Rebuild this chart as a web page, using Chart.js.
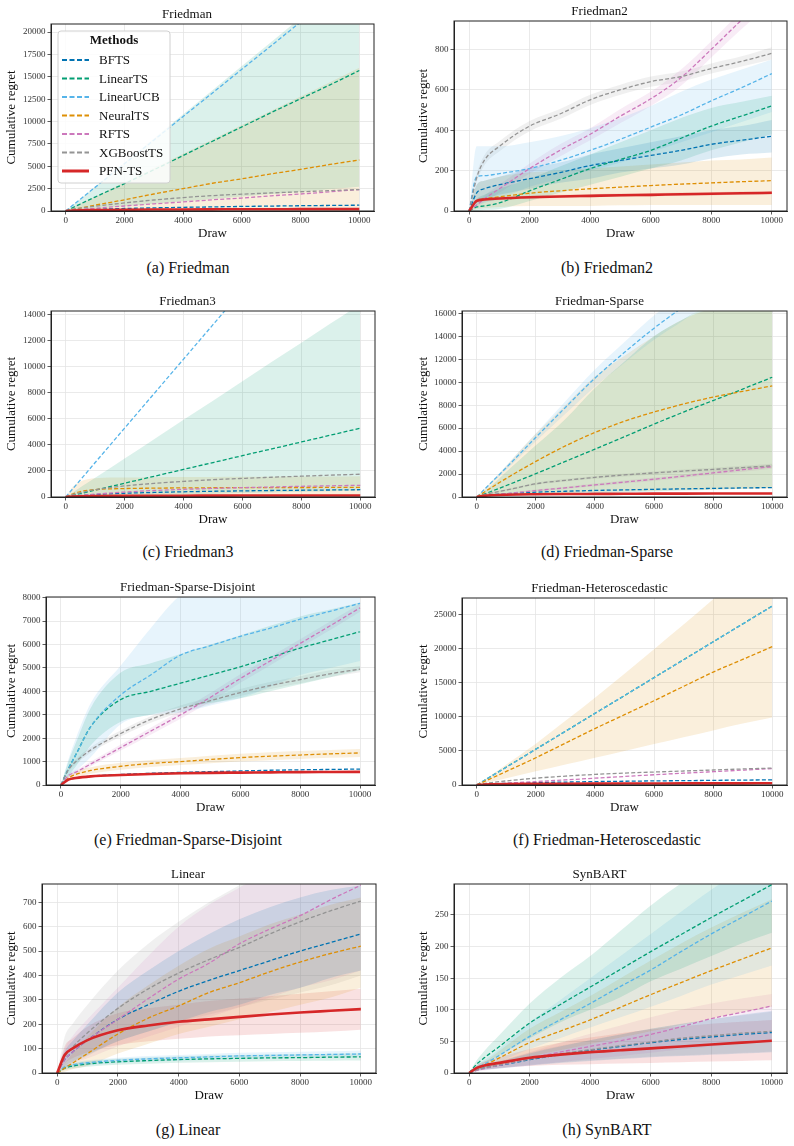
<!DOCTYPE html>
<html>
<head>
<meta charset="utf-8">
<script src="https://cdn.jsdelivr.net/npm/chart.js@4.4.0/dist/chart.umd.min.js"></script>
<style>
  body { margin: 0; background: #fff; width: 794px; height: 1146px; position: relative; overflow: hidden; font-family: "Liberation Serif", serif; color: #111; }
  canvas { position: absolute; }
  .cap { position: absolute; font-size: 16px; transform: translate(-50%, -50%); white-space: nowrap; }
</style>
</head>
<body>
<script>
// shared x positions (draw index) and tick labels
const DRAW = [0, 250, 500, 1000, 2000, 3000, 4000, 5000, 6000, 7000, 8000, 9000, 10000];
const X_TICKS = [0, 2000, 4000, 6000, 8000, 10000];
const METHODS = ["BFTS", "LinearTS", "LinearUCB", "NeuralTS", "RFTS", "XGBoostTS", "PFN-TS"];
const ZEROS = [0, 0, 0, 0, 0, 0, 0, 0, 0, 0, 0, 0, 0];

// (a) Friedman
const a_yTicks = [0, 2500, 5000, 7500, 10000, 12500, 15000, 17500, 20000];
const a_BFTS = [0, 80, 130, 190, 280, 350, 410, 460, 510, 550, 590, 620, 650];
const a_LinearTS = [0, 390, 780, 1560, 3050, 4600, 6200, 7800, 9400, 11000, 12550, 14100, 15700];
const a_LinearTS_lo = [0, 70, 140, 270, 540, 810, 1080, 1350, 1620, 1890, 2160, 2430, 2700];
const a_LinearTS_hi = [0, 680, 1350, 2700, 5400, 8100, 10800, 13500, 16200, 18900, 21600, 24300, 27000];
const a_LinearUCB = [0, 660, 1320, 2640, 5280, 7920, 10560, 13200, 15840, 18480, 21120, 23760, 26400];
const a_NeuralTS = [0, 170, 330, 650, 1250, 1900, 2500, 3100, 3600, 4150, 4650, 5200, 5700];
const a_NeuralTS_hi = [0, 400, 800, 1600, 3200, 4800, 6400, 8000, 9600, 11200, 12800, 14400, 16000];
const a_RFTS = [0, 80, 160, 300, 560, 800, 1010, 1250, 1450, 1700, 1900, 2150, 2400];
const a_XGBoostTS = [0, 200, 330, 530, 900, 1230, 1500, 1720, 1880, 2020, 2150, 2280, 2400];
const a_PFN = [0, 60, 90, 110, 140, 160, 175, 185, 195, 200, 205, 210, 215];

// (b) Friedman2
const b_yTicks = [0, 200, 400, 600, 800];
const b_BFTS = [0, 90, 110, 130, 160, 190, 225, 250, 275, 300, 330, 350, 370];
const b_BFTS_lo = [0, 50, 60, 80, 110, 140, 160, 190, 210, 230, 260, 280, 290];
const b_BFTS_hi = [0, 130, 150, 170, 210, 240, 280, 310, 340, 370, 400, 420, 450];
const b_LinearTS = [0, 20, 25, 40, 100, 155, 210, 255, 300, 360, 420, 470, 520];
const b_LinearTS_lo = [0, 0, 5, 10, 50, 90, 130, 170, 210, 250, 300, 340, 380];
const b_LinearTS_hi = [0, 60, 80, 110, 160, 220, 280, 340, 400, 460, 510, 540, 570];
const b_LinearUCB = [0, 170, 175, 185, 210, 250, 300, 355, 415, 475, 545, 610, 680];
const b_LinearUCB_lo = [0, 30, 40, 60, 120, 160, 200, 240, 290, 340, 390, 440, 490];
const b_LinearUCB_hi = [0, 320, 320, 320, 340, 370, 410, 460, 520, 590, 650, 700, 750];
const b_NeuralTS = [0, 50, 60, 70, 88, 100, 110, 118, 126, 133, 139, 145, 150];
const b_NeuralTS_lo = [0, 10, 15, 20, 25, 25, 25, 28, 30, 30, 30, 30, 30];
const b_NeuralTS_hi = [0, 130, 150, 170, 190, 200, 210, 220, 230, 240, 250, 255, 265];
const b_RFTS = [0, 30, 60, 110, 210, 300, 380, 470, 555, 660, 800, 945, 1080];
const b_RFTS_lo = [0, 20, 45, 90, 185, 270, 350, 435, 520, 620, 760, 900, 1030];
const b_RFTS_hi = [0, 40, 75, 130, 235, 330, 410, 505, 590, 700, 840, 990, 1130];
const b_XGBoostTS = [0, 165, 250, 320, 420, 480, 550, 600, 640, 665, 705, 740, 780];
const b_XGBoostTS_lo = [0, 145, 225, 295, 395, 455, 525, 575, 615, 640, 680, 715, 750];
const b_XGBoostTS_hi = [0, 185, 275, 345, 445, 505, 575, 625, 665, 690, 730, 765, 810];
const b_PFN = [0, 50, 57, 62, 68, 72, 75, 78, 80, 83, 85, 88, 90];
const b_PFN_lo = [0, 42, 49, 54, 60, 64, 67, 70, 72, 75, 77, 80, 82];
const b_PFN_hi = [0, 58, 65, 70, 76, 80, 83, 86, 88, 91, 93, 96, 98];

// (c) Friedman3
const c_yTicks = [0, 2000, 4000, 6000, 8000, 10000, 12000, 14000];
const c_BFTS = [0, 60, 110, 190, 290, 350, 400, 440, 470, 500, 520, 540, 560];
const c_LinearTS = [0, 130, 260, 530, 1060, 1590, 2120, 2650, 3180, 3700, 4230, 4760, 5290];
const c_LinearTS_lo = [0, 0, 0, 50, 100, 150, 200, 250, 300, 350, 400, 450, 500];
const c_LinearTS_hi = [0, 370, 740, 1480, 2960, 4440, 5930, 7400, 8900, 10400, 11850, 13350, 14820];
const c_LinearUCB = [0, 660, 1320, 2650, 5300, 7950, 10600, 13250, 15900, 18550, 21200, 23850, 26500];
const c_NeuralTS = [0, 250, 420, 570, 650, 680, 700, 710, 720, 725, 730, 735, 740];
const c_NeuralTS_hi = [0, 800, 1200, 1450, 1500, 1520, 1530, 1540, 1550, 1560, 1570, 1580, 1600];
const c_RFTS = [0, 60, 120, 220, 380, 500, 590, 660, 720, 770, 820, 860, 900];
const c_XGBoostTS = [0, 200, 330, 560, 850, 1050, 1200, 1330, 1430, 1520, 1600, 1680, 1750];
const c_PFN = [0, 40, 55, 70, 85, 95, 100, 105, 110, 113, 116, 118, 120];

// (d) Friedman-Sparse
const d_yTicks = [0, 2000, 4000, 6000, 8000, 10000, 12000, 14000, 16000];
const d_BFTS = [0, 120, 190, 280, 420, 500, 570, 620, 670, 710, 750, 790, 820];
const d_LinearTS = [0, 250, 500, 1000, 2030, 3100, 4170, 5250, 6350, 7400, 8400, 9400, 10430];
const d_LinearTS_lo = [0, 20, 40, 80, 160, 240, 320, 400, 480, 560, 640, 720, 800];
const d_LinearTS_hi = [0, 500, 1000, 2200, 4500, 6800, 9500, 11800, 14000, 15500, 17000, 18500, 20000];
const d_LinearUCB = [0, 640, 1280, 2560, 5200, 7800, 10350, 12600, 14700, 16600, 18500, 20300, 22000];
const d_LinearUCB_lo = [0, 600, 1190, 2380, 4850, 7250, 9600, 11700, 13700, 15400, 17200, 18900, 20500];
const d_LinearUCB_hi = [0, 690, 1380, 2750, 5550, 8350, 11100, 13500, 15800, 17800, 19800, 21700, 23500];
const d_NeuralTS = [0, 420, 830, 1620, 3100, 4450, 5620, 6600, 7400, 8100, 8700, 9200, 9680];
const d_NeuralTS_lo = [0, 50, 100, 150, 250, 350, 450, 500, 550, 600, 650, 700, 750];
const d_NeuralTS_hi = [0, 650, 1300, 2700, 5500, 8000, 10500, 12300, 14000, 15500, 16500, 17500, 18500];
const d_RFTS = [0, 80, 150, 290, 560, 800, 1050, 1300, 1550, 1820, 2100, 2380, 2650];
const d_RFTS_lo = [0, 60, 110, 230, 470, 700, 930, 1170, 1410, 1670, 1940, 2210, 2470];
const d_RFTS_hi = [0, 100, 190, 350, 650, 900, 1170, 1430, 1690, 1970, 2260, 2550, 2830];
const d_XGBoostTS = [0, 200, 350, 600, 1150, 1450, 1710, 1920, 2100, 2260, 2400, 2560, 2720];
const d_XGBoostTS_lo = [0, 170, 300, 530, 1050, 1340, 1590, 1790, 1970, 2120, 2250, 2400, 2550];
const d_XGBoostTS_hi = [0, 230, 400, 670, 1250, 1560, 1830, 2050, 2230, 2400, 2550, 2720, 2890];
const d_PFN = [0, 100, 150, 200, 240, 260, 270, 280, 290, 295, 300, 305, 310];

// (e) Friedman-Sparse-Disjoint
const e_yTicks = [0, 1000, 2000, 3000, 4000, 5000, 6000, 7000, 8000];
const e_BFTS = [0, 230, 300, 380, 450, 500, 540, 570, 600, 630, 650, 665, 680];
const e_LinearTS = [0, 700, 1300, 2500, 3650, 4000, 4350, 4700, 5050, 5450, 5850, 6200, 6550];
const e_LinearTS_lo = [0, 400, 800, 1700, 2700, 3000, 3300, 3500, 3700, 4000, 4300, 4600, 4900];
const e_LinearTS_hi = [0, 1000, 1800, 3300, 4800, 5200, 5600, 6000, 6400, 6800, 7200, 7500, 7800];
const e_LinearUCB = [0, 700, 1300, 2500, 3850, 4700, 5550, 5950, 6350, 6700, 7080, 7420, 7760];
const e_LinearUCB_lo = [0, 300, 600, 1200, 2600, 3000, 3100, 3400, 3700, 4200, 4700, 5000, 5300];
const e_LinearUCB_hi = [0, 1100, 2000, 3500, 5100, 6700, 8100, 8600, 8800, 8900, 9000, 9000, 9000];
const e_NeuralTS = [0, 300, 450, 620, 800, 920, 1000, 1090, 1170, 1230, 1280, 1330, 1370];
const e_NeuralTS_lo = [0, 200, 330, 480, 650, 770, 850, 930, 1000, 1060, 1110, 1160, 1200];
const e_NeuralTS_hi = [0, 400, 570, 760, 950, 1070, 1150, 1250, 1340, 1400, 1450, 1500, 1540];
const e_RFTS = [0, 400, 550, 900, 1600, 2300, 3000, 3750, 4550, 5300, 6050, 6800, 7570];
const e_RFTS_lo = [0, 330, 470, 800, 1470, 2150, 2830, 3570, 4370, 5120, 5870, 6620, 7400];
const e_RFTS_hi = [0, 470, 630, 1000, 1730, 2450, 3170, 3930, 4730, 5480, 6230, 6980, 7740];
const e_XGBoostTS = [0, 650, 1000, 1500, 2200, 2800, 3250, 3600, 3950, 4250, 4500, 4750, 4950];
const e_XGBoostTS_lo = [0, 560, 900, 1380, 2070, 2660, 3100, 3450, 3800, 4100, 4350, 4600, 4820];
const e_XGBoostTS_hi = [0, 740, 1100, 1620, 2330, 2940, 3400, 3750, 4100, 4400, 4650, 4900, 5080];
const e_PFN = [0, 230, 300, 370, 430, 470, 500, 520, 530, 540, 550, 555, 560];
const e_PFN_lo = [0, 190, 260, 330, 390, 430, 460, 480, 490, 500, 510, 515, 520];
const e_PFN_hi = [0, 270, 340, 410, 470, 510, 540, 560, 570, 580, 590, 595, 600];

// (f) Friedman-Heteroscedastic
const f_yTicks = [0, 5000, 10000, 15000, 20000, 25000];
const f_BFTS = [0, 100, 160, 240, 350, 430, 500, 550, 600, 640, 680, 720, 750];
const f_LinearTS = [0, 655, 1310, 2620, 5250, 7870, 10500, 13100, 15740, 18360, 20980, 23600, 26230];
const f_LinearUCB = [0, 650, 1300, 2610, 5240, 7860, 10490, 13110, 15730, 18350, 20970, 23590, 26200];
const f_NeuralTS = [0, 490, 990, 1990, 3990, 6130, 8270, 10300, 12350, 14450, 16540, 18400, 20270];
const f_NeuralTS_lo = [0, 250, 500, 990, 2000, 3000, 4000, 5000, 6000, 7000, 8000, 9000, 9900];
const f_NeuralTS_hi = [0, 750, 1500, 3000, 6050, 9400, 12800, 16300, 19900, 23500, 27200, 30800, 34500];
const f_RFTS = [0, 60, 130, 250, 500, 750, 1000, 1250, 1500, 1730, 1950, 2180, 2400];
const f_XGBoostTS = [0, 200, 350, 600, 1000, 1300, 1550, 1750, 1900, 2050, 2200, 2350, 2480];
const f_PFN = [0, 80, 110, 140, 170, 190, 205, 215, 225, 235, 240, 245, 250];

// (g) Linear
const g_yTicks = [0, 100, 200, 300, 400, 500, 600, 700];
const g_BFTS = [0, 55, 85, 135, 220, 280, 335, 380, 420, 460, 500, 535, 570];
const g_BFTS_lo = [0, 30, 45, 75, 130, 170, 210, 250, 280, 320, 350, 390, 420];
const g_BFTS_hi = [0, 90, 130, 200, 330, 420, 500, 570, 630, 680, 720, 750, 770];
const g_LinearTS = [0, 20, 28, 37, 46, 51, 55, 58, 60, 62, 63, 65, 66];
const g_LinearTS_lo = [0, 12, 18, 26, 34, 38, 42, 44, 46, 48, 49, 50, 51];
const g_LinearTS_hi = [0, 28, 38, 48, 58, 64, 68, 72, 74, 76, 77, 79, 81];
const g_LinearUCB = [0, 25, 33, 42, 52, 58, 62, 66, 70, 72, 74, 76, 78];
const g_LinearUCB_lo = [0, 17, 24, 32, 41, 46, 50, 54, 57, 59, 61, 63, 65];
const g_LinearUCB_hi = [0, 33, 42, 52, 63, 70, 74, 78, 83, 85, 87, 89, 92];
const g_NeuralTS = [0, 20, 40, 80, 160, 225, 275, 330, 370, 415, 455, 490, 520];
const g_NeuralTS_lo = [0, 5, 15, 30, 80, 120, 160, 190, 220, 250, 280, 310, 350];
const g_NeuralTS_hi = [0, 40, 80, 150, 270, 360, 440, 510, 560, 610, 650, 690, 720];
const g_RFTS = [0, 55, 85, 135, 220, 305, 385, 450, 530, 590, 645, 710, 770];
const g_RFTS_lo = [0, 25, 40, 60, 110, 150, 190, 230, 270, 310, 350, 380, 420];
const g_RFTS_hi = [0, 100, 150, 220, 350, 480, 600, 690, 760, 830, 890, 950, 1010];
const g_XGBoostTS = [0, 65, 105, 165, 265, 345, 410, 465, 515, 570, 620, 665, 705];
const g_XGBoostTS_lo = [0, 20, 40, 70, 130, 170, 210, 240, 270, 300, 330, 360, 400];
const g_XGBoostTS_hi = [0, 150, 200, 280, 420, 530, 620, 700, 770, 840, 900, 960, 1020];
const g_PFN = [0, 75, 100, 135, 175, 195, 210, 220, 230, 240, 248, 255, 262];
const g_PFN_lo = [0, 40, 60, 85, 115, 130, 140, 150, 155, 160, 165, 170, 177];
const g_PFN_hi = [0, 110, 140, 190, 245, 265, 280, 295, 305, 315, 325, 335, 345];

// (h) SynBART
const h_yTicks = [0, 50, 100, 150, 200, 250];
const h_BFTS = [0, 5, 8, 12, 21, 29, 36, 42, 48, 53, 57, 61, 64];
const h_BFTS_lo = [0, 3, 5, 7, 12, 16, 19, 22, 25, 27, 29, 31, 33];
const h_BFTS_hi = [0, 7, 11, 18, 31, 42, 52, 61, 70, 78, 85, 92, 98];
const h_LinearTS = [0, 14, 24, 42, 79, 108, 136, 164, 192, 219, 246, 272, 298];
const h_LinearTS_lo = [0, 9, 15, 28, 55, 80, 100, 120, 145, 165, 185, 205, 222];
const h_LinearTS_hi = [0, 20, 35, 60, 110, 150, 185, 225, 265, 300, 330, 360, 390];
const h_LinearUCB = [0, 8, 14, 28, 58, 84, 110, 137, 163, 192, 220, 246, 272];
const h_LinearUCB_lo = [0, 5, 9, 18, 38, 55, 72, 88, 105, 122, 140, 155, 170];
const h_LinearUCB_hi = [0, 12, 20, 38, 80, 115, 150, 185, 220, 255, 290, 320, 350];
const h_NeuralTS = [0, 7, 12, 24, 48, 66, 84, 104, 124, 143, 162, 180, 198];
const h_NeuralTS_lo = [0, 4, 7, 13, 26, 36, 46, 56, 66, 76, 86, 96, 105];
const h_NeuralTS_hi = [0, 10, 17, 35, 70, 96, 122, 150, 178, 205, 230, 253, 275];
const h_RFTS = [0, 4, 7, 12, 23, 33, 42, 51, 61, 73, 86, 96, 106];
const h_RFTS_lo = [0, 2, 4, 7, 12, 17, 22, 27, 32, 37, 42, 47, 52];
const h_RFTS_hi = [0, 6, 10, 18, 33, 48, 62, 75, 88, 100, 110, 118, 125];
const h_XGBoostTS = [0, 5, 8, 13, 22, 30, 37, 43, 49, 55, 59, 63, 66];
const h_XGBoostTS_lo = [0, 3, 5, 8, 13, 17, 20, 23, 26, 28, 30, 32, 34];
const h_XGBoostTS_hi = [0, 7, 11, 19, 32, 43, 52, 61, 70, 77, 85, 91, 97];
const h_PFN = [0, 8, 12, 16, 24, 29, 33, 36, 39, 42, 45, 48, 51];
const h_PFN_lo = [0, 4, 6, 8, 11, 13, 14, 15, 16, 17, 18, 19, 20];
const h_PFN_hi = [0, 12, 18, 25, 38, 48, 56, 63, 69, 74, 78, 81, 84];

// seaborn colorblind-ish palette, red for PFN-TS
const COLORS = ["#0173b2", "#029e73", "#56b4e9", "#de8f05", "#cc78bc", "#949494", "#d62728"];
const FONT = "\"Liberation Serif\", \"Times New Roman\", serif";

// plot rect = [left, top, right, bottom] of the axes box on the page
const panels = [
    { title: "Friedman", caption: "(a) Friedman", plot: [51, 24, 374, 211], col: 0, capY: 268, yMax: 20900, yTicks: a_yTicks, legend: true,
      series: [[a_BFTS], [a_LinearTS, a_LinearTS_lo, a_LinearTS_hi], [a_LinearUCB], [a_NeuralTS, ZEROS, a_NeuralTS_hi], [a_RFTS], [a_XGBoostTS], [a_PFN]] },
    { title: "Friedman2", caption: "(b) Friedman2", plot: [454, 21, 787, 211], col: 1, capY: 268, yMax: 940, yTicks: b_yTicks,
      series: [[b_BFTS, b_BFTS_lo, b_BFTS_hi], [b_LinearTS, b_LinearTS_lo, b_LinearTS_hi], [b_LinearUCB, b_LinearUCB_lo, b_LinearUCB_hi],
               [b_NeuralTS, b_NeuralTS_lo, b_NeuralTS_hi], [b_RFTS, b_RFTS_lo, b_RFTS_hi], [b_XGBoostTS, b_XGBoostTS_lo, b_XGBoostTS_hi], [b_PFN, b_PFN_lo, b_PFN_hi]] },
    { title: "Friedman3", caption: "(c) Friedman3", plot: [51, 311, 375, 497], col: 0, capY: 552, yMax: 14300, yTicks: c_yTicks,
      series: [[c_BFTS], [c_LinearTS, c_LinearTS_lo, c_LinearTS_hi], [c_LinearUCB], [c_NeuralTS, ZEROS, c_NeuralTS_hi], [c_RFTS], [c_XGBoostTS], [c_PFN]] },
    { title: "Friedman-Sparse", caption: "(d) Friedman-Sparse", plot: [462, 311, 787, 497], col: 1, capY: 552, yMax: 16200, yTicks: d_yTicks,
      series: [[d_BFTS], [d_LinearTS, d_LinearTS_lo, d_LinearTS_hi], [d_LinearUCB, d_LinearUCB_lo, d_LinearUCB_hi], [d_NeuralTS, d_NeuralTS_lo, d_NeuralTS_hi],
               [d_RFTS, d_RFTS_lo, d_RFTS_hi], [d_XGBoostTS, d_XGBoostTS_lo, d_XGBoostTS_hi], [d_PFN]] },
    { title: "Friedman-Sparse-Disjoint", caption: "(e) Friedman-Sparse-Disjoint", plot: [46, 597, 375, 785], col: 0, capY: 840, yMax: 8030, yTicks: e_yTicks,
      series: [[e_BFTS], [e_LinearTS, e_LinearTS_lo, e_LinearTS_hi], [e_LinearUCB, e_LinearUCB_lo, e_LinearUCB_hi], [e_NeuralTS, e_NeuralTS_lo, e_NeuralTS_hi],
               [e_RFTS, e_RFTS_lo, e_RFTS_hi], [e_XGBoostTS, e_XGBoostTS_lo, e_XGBoostTS_hi], [e_PFN, e_PFN_lo, e_PFN_hi]] },
    { title: "Friedman-Heteroscedastic", caption: "(f) Friedman-Heteroscedastic", plot: [462, 598, 787, 785], col: 1, capY: 840, yMax: 27400, yTicks: f_yTicks,
      series: [[f_BFTS], [f_LinearTS], [f_LinearUCB], [f_NeuralTS, f_NeuralTS_lo, f_NeuralTS_hi], [f_RFTS], [f_XGBoostTS], [f_PFN]] },
    { title: "Linear", caption: "(g) Linear", plot: [42, 884, 376, 1073], col: 0, capY: 1130, yMax: 775, yTicks: g_yTicks,
      series: [[g_BFTS, g_BFTS_lo, g_BFTS_hi], [g_LinearTS, g_LinearTS_lo, g_LinearTS_hi], [g_LinearUCB, g_LinearUCB_lo, g_LinearUCB_hi],
               [g_NeuralTS, g_NeuralTS_lo, g_NeuralTS_hi], [g_RFTS, g_RFTS_lo, g_RFTS_hi], [g_XGBoostTS, g_XGBoostTS_lo, g_XGBoostTS_hi], [g_PFN, g_PFN_lo, g_PFN_hi]] },
    { title: "SynBART", caption: "(h) SynBART", plot: [454, 884, 787, 1073], col: 1, capY: 1130, yMax: 299, yTicks: h_yTicks,
      series: [[h_BFTS, h_BFTS_lo, h_BFTS_hi], [h_LinearTS, h_LinearTS_lo, h_LinearTS_hi], [h_LinearUCB, h_LinearUCB_lo, h_LinearUCB_hi],
               [h_NeuralTS, h_NeuralTS_lo, h_NeuralTS_hi], [h_RFTS, h_RFTS_lo, h_RFTS_hi], [h_XGBoostTS, h_XGBoostTS_lo, h_XGBoostTS_hi], [h_PFN, h_PFN_lo, h_PFN_hi]] },
];

const COL_LEFT = [0, 412];
const COL_CENTER = [188, 607];

Chart.defaults.font.family = FONT;

function pts (arr) {
    return arr.map((v, i) => ({ x: DRAW[i], y: v }));
}

function withAlpha (hex, a) {
    const n = parseInt(hex.slice(1), 16);
    return "rgba(" + (n >> 16) + ", " + ((n >> 8) & 255) + ", " + (n & 255) + ", " + a + ")";
}

function isPFN (i) { return METHODS[i] === "PFN-TS"; }

function buildDatasets (series) {
    const bands = [];
    const lines = [];
    series.forEach((s, i) => {
        const [mean, lo, hi] = s;
        if (lo && hi) {
            const loIdx = bands.length;
            bands.push({ data: pts(lo), borderWidth: 0, pointRadius: 0, fill: false, cubicInterpolationMode: "monotone", order: 50 });
            bands.push({ data: pts(hi), borderWidth: 0, pointRadius: 0, fill: loIdx, backgroundColor: withAlpha(COLORS[i], 0.14),
                         cubicInterpolationMode: "monotone", order: 50 });
        }
        lines.push({
            label: METHODS[i],
            data: pts(mean),
            borderColor: COLORS[i],
            borderWidth: isPFN(i) ? 2.6 : 1.3,
            borderDash: isPFN(i) ? [] : [4, 2.2],
            pointRadius: 0,
            fill: false,
            cubicInterpolationMode: "monotone",
            order: METHODS.length - 1 - i,
        });
    });
    return bands.concat(lines);
}

// top/right spines
const framePlugin = {
    id: "frame",
    afterDatasetsDraw (chart) {
        const { ctx, chartArea: a } = chart;
        ctx.save();
        ctx.strokeStyle = "#222";
        ctx.lineWidth = 1;
        ctx.strokeRect(a.left, a.top, a.right - a.left, a.bottom - a.top);
        ctx.restore();
    },
};

// legend box inside the first panel
const legendBoxPlugin = {
    id: "legendBox",
    afterDraw (chart) {
        const { ctx, chartArea: a } = chart;
        const x0 = a.left + 7, y0 = a.top + 7, w = 112, h = 152;
        ctx.save();
        ctx.beginPath();
        ctx.roundRect(x0, y0, w, h, 3);
        ctx.fillStyle = "rgba(255,255,255,0.85)";
        ctx.fill();
        ctx.strokeStyle = "#d0d0d0";
        ctx.lineWidth = 1;
        ctx.stroke();
        ctx.fillStyle = "#111";
        ctx.textBaseline = "middle";
        ctx.textAlign = "center";
        ctx.font = "bold 13px " + FONT;
        ctx.fillText("Methods", x0 + w / 2, a.top + 17);
        ctx.textAlign = "left";
        ctx.font = "13px " + FONT;
        METHODS.forEach((m, i) => {
            const y = a.top + 36 + i * 18.5;
            ctx.beginPath();
            ctx.strokeStyle = COLORS[i];
            ctx.lineWidth = isPFN(i) ? 3 : 1.8;
            ctx.setLineDash(isPFN(i) ? [] : [5, 2.5]);
            ctx.moveTo(a.left + 11, y);
            ctx.lineTo(a.left + 38, y);
            ctx.stroke();
            ctx.setLineDash([]);
            ctx.fillText(m, a.left + 48, y + 1);
        });
        ctx.restore();
    },
};

function drawPanel (p) {
    const [pl, pt, pr, pb] = p.plot;
    const cLeft = COL_LEFT[p.col];
    const cTop = pt - 22;
    const cW = pr + 6 - cLeft;
    const cH = pb + 32 - cTop;

    const canvas = document.createElement("canvas");
    canvas.width = cW;
    canvas.height = cH;
    canvas.style.left = cLeft + "px";
    canvas.style.top = cTop + "px";
    canvas.style.width = cW + "px";
    canvas.style.height = cH + "px";
    document.body.appendChild(canvas);

    const cap = document.createElement("div");
    cap.className = "cap";
    cap.textContent = p.caption;
    cap.style.left = COL_CENTER[p.col] + "px";
    cap.style.top = p.capY + "px";
    document.body.appendChild(cap);

    const tickFont = { family: FONT, size: 9 };
    new Chart(canvas.getContext("2d"), {
        type: "line",
        data: { datasets: buildDatasets(p.series) },
        options: {
            responsive: false,
            animation: false,
            devicePixelRatio: 1,
            events: [],
            layout: { padding: { top: 0, left: 0, right: 6, bottom: 2 } },
            plugins: {
                legend: { display: false },
                tooltip: { enabled: false },
                filler: { drawTime: "beforeDatasetsDraw", propagate: false },
                title: {
                    display: true,
                    text: p.title,
                    color: "#111",
                    font: { family: FONT, size: 13, weight: "normal", lineHeight: 1.2 },
                    padding: { top: 4.4, bottom: 2 },
                },
            },
            scales: {
                x: {
                    type: "linear",
                    min: -500,
                    max: 10500,
                    afterBuildTicks: (scale) => { scale.ticks = X_TICKS.map((v) => ({ value: v })); },
                    afterFit: (scale) => { scale.height = 30; },
                    ticks: { font: tickFont, color: "#333", maxRotation: 0, autoSkip: false, padding: 1, callback: (v) => String(v) },
                    grid: { color: "#e4e4e4", lineWidth: 0.8, tickLength: 3.5, tickColor: "#333", tickWidth: 0.8 },
                    border: { color: "#222", width: 1 },
                    title: { display: true, text: "Draw", color: "#111", font: { family: FONT, size: 13, lineHeight: 1.2 }, padding: { top: 0, bottom: 0 } },
                },
                y: {
                    type: "linear",
                    min: 0,
                    max: p.yMax,
                    afterBuildTicks: (scale) => { scale.ticks = p.yTicks.map((v) => ({ value: v })); },
                    afterFit: (scale) => { scale.width = pl - cLeft; },
                    ticks: { font: tickFont, color: "#333", padding: 2, callback: (v) => String(v) },
                    grid: { color: "#e4e4e4", lineWidth: 0.8, tickLength: 3.5, tickColor: "#333", tickWidth: 0.8 },
                    border: { color: "#222", width: 1 },
                    title: { display: true, text: "Cumulative regret", color: "#111", font: { family: FONT, size: 13, lineHeight: 1.2 }, padding: { top: 4, bottom: 0 } },
                },
            },
        },
        plugins: p.legend ? [framePlugin, legendBoxPlugin] : [framePlugin],
    });
}

// make sure the serif face is ready before the canvases draw text
Promise.all([
    document.fonts.load("13px \"Liberation Serif\""),
    document.fonts.load("bold 13px \"Liberation Serif\""),
]).catch(() => null).then(() => panels.forEach(drawPanel));
</script>
</body>
</html>
